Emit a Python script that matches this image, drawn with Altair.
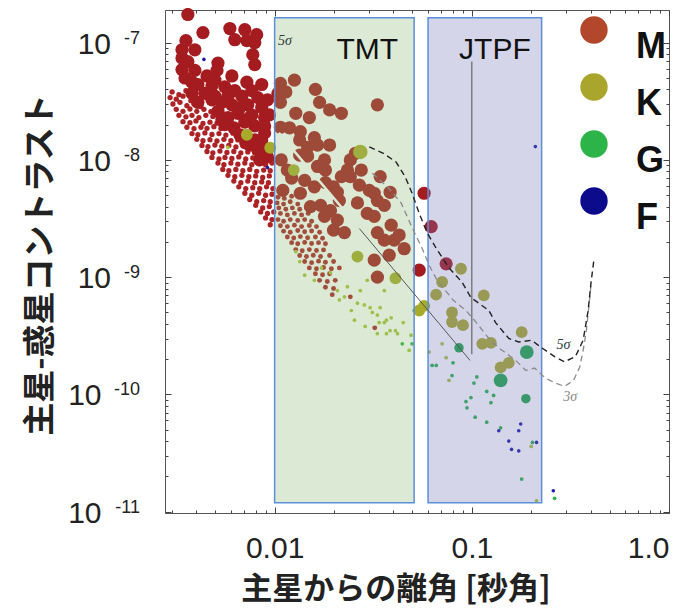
import altair as alt
import pandas as pd

# ---------------- data (separation [arcsec], contrast) ----------------
cloud_red = [
    (0.00302, 3.8e-8), (0.00327, 3.6e-8), (0.00355, 3.9e-8),
    (0.00295, 3.4e-8), (0.00317, 3.3e-8), (0.00343, 3.5e-8), (0.00376, 3.2e-8),
    (0.00305, 3.0e-8), (0.00331, 3.1e-8), (0.00359, 2.9e-8), (0.0039, 3.0e-8), (0.00423, 2.85e-8),
    (0.00317, 2.7e-8), (0.00343, 2.6e-8), (0.00372, 2.72e-8), (0.00403, 2.6e-8), (0.00438, 2.7e-8), (0.00475, 2.58e-8),
    (0.00327, 2.4e-8), (0.00355, 2.33e-8), (0.00381, 2.4e-8), (0.00413, 2.3e-8), (0.00448, 2.4e-8), (0.00486, 2.35e-8), (0.00528, 2.3e-8),
    (0.00343, 2.12e-8), (0.00372, 2.08e-8), (0.00399, 2.15e-8), (0.00433, 2.05e-8), (0.0047, 2.1e-8), (0.0051, 2.06e-8), (0.0056, 2.12e-8), (0.0061, 2.04e-8),
    (0.00359, 1.9e-8), (0.0039, 1.85e-8), (0.00423, 1.9e-8), (0.00454, 1.86e-8), (0.00492, 1.92e-8), (0.00534, 1.85e-8), (0.00586, 1.9e-8), (0.00643, 1.84e-8),
    (0.00381, 1.68e-8), (0.00408, 1.64e-8), (0.00443, 1.7e-8), (0.00481, 1.65e-8), (0.00522, 1.68e-8), (0.00566, 1.63e-8), (0.00614, 1.69e-8), (0.00674, 1.64e-8), (0.00731, 1.67e-8),
    (0.00403, 1.5e-8), (0.00433, 1.46e-8), (0.0047, 1.49e-8), (0.0051, 1.45e-8), (0.00553, 1.5e-8), (0.006, 1.46e-8), (0.00651, 1.48e-8), (0.00706, 1.45e-8), (0.00775, 1.5e-8),
    (0.00428, 1.33e-8), (0.00459, 1.3e-8), (0.00498, 1.34e-8), (0.0054, 1.31e-8), (0.00586, 1.33e-8), (0.00636, 1.29e-8), (0.0069, 1.32e-8), (0.00748, 1.3e-8), (0.00811, 1.34e-8), (0.0088, 1.31e-8),
    (0.00454, 1.18e-8), (0.00486, 1.15e-8), (0.00528, 1.19e-8), (0.00573, 1.16e-8), (0.00621, 1.18e-8), (0.00674, 1.15e-8), (0.00731, 1.17e-8), (0.00793, 1.15e-8), (0.0086, 1.18e-8), (0.0093, 1.16e-8),
    (0.00481, 1.05e-8), (0.00522, 1.02e-8), (0.0056, 1.05e-8), (0.00607, 1.03e-8), (0.00658, 1.06e-8), (0.00714, 1.02e-8), (0.00775, 1.04e-8), (0.0084, 1.02e-8), (0.0091, 1.05e-8), (0.0098, 1.03e-8),
    (0.00516, 9.4e-9), (0.00553, 9.1e-9), (0.006, 9.4e-9), (0.00651, 9.2e-9), (0.00706, 9.4e-9), (0.00766, 9.1e-9), (0.0083, 9.3e-9), (0.009, 9.1e-9), (0.0097, 9.4e-9),
    (0.00546, 8.3e-9), (0.00586, 8.1e-9), (0.00636, 8.3e-9), (0.0069, 8.1e-9), (0.00748, 8.3e-9), (0.00811, 8.0e-9), (0.0088, 8.2e-9), (0.0095, 8.1e-9),
    (0.0058, 7.4e-9), (0.00628, 7.2e-9), (0.00682, 7.4e-9), (0.0074, 7.2e-9), (0.00802, 7.3e-9), (0.0087, 7.1e-9), (0.0094, 7.3e-9),
    (0.00621, 6.6e-9), (0.00674, 6.4e-9), (0.00731, 6.6e-9), (0.00793, 6.4e-9), (0.0086, 6.5e-9), (0.0093, 6.4e-9),
    (0.00658, 5.9e-9), (0.00714, 5.7e-9), (0.00775, 5.8e-9), (0.0084, 5.7e-9), (0.0091, 5.9e-9), (0.0098, 5.7e-9),
    (0.00706, 5.2e-9), (0.00766, 5.0e-9), (0.0083, 5.2e-9), (0.009, 5.0e-9), (0.0097, 5.1e-9),
    (0.00748, 4.6e-9), (0.00811, 4.4e-9), (0.0088, 4.5e-9), (0.0095, 4.4e-9),
    (0.00802, 4.1e-9), (0.0087, 3.9e-9), (0.0094, 4.0e-9),
    (0.0085, 3.6e-9), (0.0092, 3.5e-9), (0.0099, 3.6e-9),
    (0.009, 3.2e-9), (0.0097, 3.1e-9),
    (0.0095, 2.8e-9),
]

tmt_red = [
    (0.0104, 4.8e-9), (0.0112, 4.7e-9), (0.0122, 4.9e-9),
    (0.0103, 4.3e-9), (0.0111, 4.2e-9), (0.012, 4.4e-9), (0.0131, 4.2e-9),
    (0.0105, 3.9e-9), (0.0114, 3.8e-9), (0.0123, 3.9e-9), (0.0134, 3.8e-9), (0.0145, 3.9e-9),
    (0.0107, 3.5e-9), (0.0116, 3.4e-9), (0.0126, 3.5e-9), (0.0137, 3.4e-9), (0.0148, 3.5e-9),
    (0.0104, 3.1e-9), (0.0111, 3.0e-9), (0.012, 3.1e-9), (0.0131, 3.05e-9), (0.0142, 3.1e-9), (0.0154, 3.0e-9),
    (0.0107, 2.75e-9), (0.0116, 2.7e-9), (0.0126, 2.78e-9), (0.0137, 2.7e-9), (0.015, 2.76e-9), (0.0163, 2.7e-9),
    (0.0111, 2.47e-9), (0.012, 2.42e-9), (0.0131, 2.5e-9), (0.0142, 2.44e-9), (0.0154, 2.48e-9), (0.0169, 2.42e-9),
    (0.0116, 2.2e-9), (0.0125, 2.16e-9), (0.0135, 2.22e-9), (0.0147, 2.17e-9), (0.0161, 2.2e-9), (0.0175, 2.15e-9),
    (0.0122, 1.97e-9), (0.0131, 1.93e-9), (0.0142, 1.98e-9), (0.0154, 1.94e-9), (0.0167, 1.97e-9), (0.0181, 1.93e-9),
    (0.0128, 1.72e-9), (0.0138, 1.68e-9), (0.015, 1.72e-9), (0.0163, 1.69e-9), (0.0177, 1.71e-9),
    (0.0134, 1.53e-9), (0.0145, 1.5e-9), (0.0157, 1.54e-9), (0.0171, 1.5e-9), (0.019, 1.53e-9),
    (0.0142, 1.36e-9), (0.0154, 1.33e-9), (0.0167, 1.37e-9), (0.0181, 1.34e-9), (0.0199, 1.36e-9),
    (0.015, 1.2e-9), (0.0163, 1.18e-9), (0.0177, 1.21e-9), (0.0194, 1.18e-9), (0.0213, 1.2e-9),
    (0.0161, 1.07e-9), (0.0175, 1.05e-9), (0.019, 1.07e-9),
    (0.0169, 9.4e-10), (0.0185, 9.2e-10), (0.0203, 9.4e-10),
    (0.0181, 8.2e-10), (0.0199, 8.0e-10),
    (0.0196, 7.1e-10), (0.0242, 6.8e-10), (0.0322, 3.7e-10),
]

small_k = [
    (0.0128, 1.65e-9), (0.0192, 1.09e-9), (0.0234, 8.3e-10), (0.0208, 7.7e-10), (0.0226, 6.8e-10),
    (0.0263, 6.0e-10), (0.0285, 5.8e-10), (0.0305, 5.5e-10), (0.0343, 5.5e-10), (0.0332, 4.75e-10),
    (0.0272, 7.7e-10), (0.0295, 9.4e-10), (0.036, 7.7e-10), (0.036, 4.1e-10), (0.0385, 3.5e-10),
    (0.042, 3.3e-10), (0.0369, 3.3e-10), (0.0332, 3.3e-10), (0.0313, 5.0e-10), (0.0339, 4.1e-10),
    (0.0369, 4.3e-10), (0.041, 3.5e-10), (0.0481, 2.38e-10), (0.0607, 2.3e-10), (0.0707, 2.7e-10),
    (0.0741, 2.06e-10), (0.0766, 1.32e-10), (0.0134, 1.36e-9), (0.0142, 1.04e-9), (0.0159, 9.4e-10),
    (0.0173, 1.2e-9), (0.0213, 6.4e-10), (0.0245, 5.2e-10), (0.039, 4.5e-10), (0.0449, 4.1e-10),
    (0.0492, 3.2e-10), (0.0254, 4.3e-10), (0.0288, 3.8e-10), (0.2, 3.6e-11), (0.213, 1.24e-11),
    (0.0058, 1.28e-8),
]

small_g = [
    (0.0444, 2.7e-10), (0.0498, 2.7e-10), (0.0629, 1.77e-10), (0.066, 1.77e-10), (0.0803, 1.86e-10),
    (0.0794, 1.45e-10), (0.106, 1.41e-10), (0.1025, 1.25e-10), (0.119, 1.06e-10), (0.129, 9.8e-11),
    (0.099, 9.4e-11), (0.125, 8.5e-11), (0.0934, 8.7e-11), (0.0945, 7.7e-11), (0.104, 6.4e-11),
    (0.119, 5.8e-11), (0.14, 5.2e-11), (0.203, 3.9e-11), (0.179, 1.9e-11), (0.263, 1.3e-11),
    (0.051, 5.2e-10),
]

small_f = [
    (0.137, 4.9e-11), (0.177, 5.6e-11), (0.173, 4.9e-11), (0.154, 4.0e-11), (0.159, 3.4e-11),
    (0.173, 3.3e-11), (0.213, 3.9e-11), (0.259, 1.51e-11), (0.00438, 7.2e-8), (0.0092, 8.6e-9),
    (0.21, 1.3e-8),
]

big_m = [
    (0.00363, 1.74e-7), (0.00433, 1.22e-7), (0.00593, 1.32e-7), (0.00706, 1.29e-7), (0.00811, 1.17e-7),
    (0.00628, 1.06e-7), (0.00723, 1.04e-7), (0.00793, 1.0e-7), (0.00355, 1.04e-7), (0.00339, 8.7e-8),
    (0.00775, 7.9e-8), (0.00339, 7.4e-8), (0.00516, 6.7e-8), (0.00339, 5.9e-8), (0.00394, 5.8e-8),
    (0.0051, 5.8e-8), (0.00351, 5.0e-8), (0.00454, 5.2e-8), (0.00607, 5.2e-8), (0.00381, 4.6e-8),
    (0.00408, 4.4e-8), (0.00481, 4.3e-8), (0.00723, 4.6e-8), (0.00559, 4.2e-8), (0.00628, 3.9e-8),
    (0.00766, 3.9e-8), (0.00381, 3.7e-8), (0.00498, 3.5e-8), (0.00682, 3.5e-8), (0.00821, 3.4e-8),
    (0.0054, 3.1e-8), (0.00607, 2.95e-8), (0.00731, 2.95e-8), (0.00408, 3.1e-8), (0.0086, 2.8e-8),
    (0.00516, 2.6e-8), (0.00651, 2.5e-8), (0.00766, 2.42e-8), (0.0089, 2.3e-8), (0.00706, 2.1e-8),
    (0.00793, 1.95e-8), (0.0089, 1.95e-8), (0.0089, 1.7e-8), (0.00793, 1.48e-8), (0.0089, 1.22e-8),
    (0.0092, 1.06e-8), (0.0058, 2.3e-8), (0.00559, 2.0e-8), (0.00666, 1.64e-8), (0.00748, 1.34e-8),
    (0.0084, 1.0e-8),
    (0.00498, 4.8e-8), (0.0058, 3.5e-8), (0.00666, 2.8e-8), (0.00443, 3.7e-8), (0.0054, 2.2e-8),
    (0.00621, 1.88e-8), (0.00714, 1.4e-8), (0.00821, 1.22e-8), (0.0086, 1.48e-8), (0.00748, 2.3e-8),
    (0.00363, 6.9e-8), (0.00394, 8.7e-8), (0.00481, 3.26e-8), (0.0086, 4.4e-8), (0.0092, 3.26e-8),
    (0.0094, 2.42e-8), (0.00793, 6.5e-8),
    (0.0126, 4.8e-8), (0.0107, 4.5e-8), (0.0161, 4.0e-8), (0.0104, 3.7e-8), (0.0114, 3.8e-8),
    (0.0107, 3.1e-8), (0.0169, 3.1e-8), (0.019, 2.67e-8), (0.0332, 2.95e-8), (0.0128, 2.5e-8),
    (0.015, 2.3e-8), (0.0218, 2.5e-8), (0.0107, 1.9e-8), (0.0119, 1.88e-8), (0.0135, 1.74e-8),
    (0.0159, 1.55e-8), (0.0134, 1.48e-8), (0.0147, 1.28e-8), (0.0165, 1.34e-8), (0.0179, 1.0e-8),
    (0.0181, 8.2e-9), (0.0242, 1.0e-8), (0.0257, 1.14e-8), (0.0234, 8.2e-9), (0.0218, 7.2e-9),
    (0.0242, 7.2e-9), (0.0343, 7.2e-9), (0.0181, 6.4e-9), (0.0199, 5.9e-9), (0.032, 5.2e-9),
    (0.0385, 5.3e-9), (0.0332, 4.5e-9), (0.0263, 4.3e-9), (0.0159, 5.9e-9), (0.0135, 5.2e-9),
    (0.0116, 8.2e-9), (0.0208, 5.3e-9), (0.0295, 3.5e-9), (0.032, 3.3e-9), (0.0152, 4.0e-9),
    (0.0171, 4.1e-9), (0.0192, 3.7e-9), (0.0179, 3.3e-9), (0.0208, 3.07e-9), (0.0199, 2.52e-9),
    (0.0226, 2.4e-9), (0.0332, 2.4e-9), (0.036, 2.07e-9), (0.0404, 2.07e-9), (0.0454, 1.75e-9),
    (0.032, 1.4e-9), (0.0332, 1.0e-9), (0.0108, 1.0e-8), (0.0122, 7.0e-9), (0.011, 5.5e-9),
    (0.0147, 1.08e-8), (0.0165, 8.8e-9), (0.0142, 6.7e-9),
    (0.0134, 1.1e-8), (0.019, 1.34e-8), (0.0213, 4.5e-9), (0.0269, 6.1e-9), (0.0275, 8.2e-9),
    (0.0302, 5.5e-9), (0.036, 4.1e-9), (0.039, 2.78e-9), (0.0428, 2.29e-9), (0.0381, 1.54e-9),
    (0.0573, 5.2e-9), (0.0622, 2.7e-9), (0.0741, 1.3e-9), (0.0541, 1.15e-9),
]

big_k = [
    (0.00723, 1.64e-8), (0.0095, 1.27e-8), (0.0125, 8.2e-9), (0.0263, 1.5e-9), (0.041, 9.8e-10),
    (0.0541, 5.2e-10), (0.0573, 5.7e-10), (0.0881, 1.18e-9), (0.0707, 9.1e-10), (0.0659, 7.1e-10),
    (0.115, 7.0e-10), (0.0794, 5.0e-10), (0.0794, 4.15e-10), (0.0902, 3.9e-10), (0.179, 3.4e-10),
    (0.113, 2.7e-10), (0.125, 2.75e-10), (0.14, 1.7e-10), (0.154, 1.86e-10),
]
big_k_large = [(0.0272, 1.17e-8)]
big_g = [(0.19, 2.3e-10), (0.14, 1.32e-10)]
mid_g = [(0.188, 9.2e-11), (0.0861, 2.5e-10)]

box_names = ["TMT", "JTPF"]
box_sep_lo = [0.01, 0.06]
box_sep_hi = [0.051, 0.226]
box_con_lo = [1.19e-11, 1.19e-11]
box_con_hi = [1.63e-7, 1.63e-7]
box_label_sep = [0.0295, 0.131]
box_label_con = [8.7e-8, 8.7e-8]

curve_5sigma = [
    (0.0302, 1.29e-8), (0.0356, 1.14e-8), (0.0413, 9.6e-9), (0.0459, 7.2e-9), (0.0498, 5.2e-9),
    (0.0541, 3.5e-9), (0.0593, 2.4e-9), (0.0659, 1.77e-9), (0.0766, 1.2e-9), (0.0891, 9.1e-10),
    (0.099, 6.7e-10), (0.122, 5.2e-10), (0.132, 4.1e-10), (0.154, 3.0e-10), (0.173, 2.8e-10),
    (0.201, 2.9e-10), (0.226, 2.5e-10), (0.263, 2.1e-10), (0.295, 1.9e-10), (0.335, 2.1e-10),
    (0.367, 2.9e-10), (0.389, 5.2e-10), (0.402, 8.9e-10), (0.417, 1.45e-9),
]
curve_3sigma = [
    (0.0313, 7.7e-9), (0.0373, 5.9e-9), (0.0438, 4.3e-9), (0.0498, 2.65e-9), (0.0559, 1.77e-9),
    (0.0607, 1.27e-9), (0.0667, 9.4e-10), (0.0803, 6.4e-10), (0.0934, 5.2e-10), (0.1055, 4.1e-10),
    (0.122, 3.0e-10), (0.137, 2.5e-10), (0.167, 1.95e-10), (0.188, 1.6e-10), (0.208, 1.68e-10),
    (0.236, 1.38e-10), (0.263, 1.26e-10), (0.295, 1.17e-10), (0.328, 1.32e-10), (0.352, 1.7e-10),
    (0.367, 2.38e-10), (0.381, 3.5e-10), (0.393, 5.8e-10), (0.402, 8.5e-10),
]
diag_light = [(0.0105, 1.7e-8), (0.0269, 2.6e-9)]
diag_dark = [(0.0269, 2.6e-9), (0.098, 1.95e-10)]
vline_sep = [0.1]
vline_top = [6.9e-8]
vline_bot = [2.2e-10]

sigma_dark_text = ["5σ", "5σ"]
sigma_dark_sep = [0.269, 0.0104]
sigma_dark_con = [2.65e-10, 1.04e-7]
sigma_gray_text = ["3σ"]
sigma_gray_sep = [0.291]
sigma_gray_con = [9.6e-11]

x_major = [0.01, 0.1, 1.0]
x_minor = [0.003, 0.004, 0.005, 0.006, 0.007, 0.008, 0.009,
           0.02, 0.03, 0.04, 0.05, 0.06, 0.07, 0.08, 0.09,
           0.2, 0.3, 0.4, 0.5, 0.6, 0.7, 0.8, 0.9]
y_exponents = [-7, -8, -9, -10, -11]
y_major = [1e-7, 1e-8, 1e-9, 1e-10, 1e-11]
y_minor = [m * 10.0 ** e for e in (-11, -10, -9, -8) for m in range(2, 10)]

legend_classes = ["M", "K", "G", "F"]
legend_colors = ["#b3472b", "#aaa52c", "#2db449", "#0b0b8c"]

x_title = ["主星からの離角 [秒角]"]
y_title = ["主星-惑星コントラスト"]

# ---------------- chart ----------------
xs = alt.Scale(type="log", domain=[0.00278, 1.0], nice=False)
ys = alt.Scale(type="log", domain=[9.75e-12, 1.9e-7], nice=False)


def pdf(pairs):
    return pd.DataFrame(pairs, columns=["sep", "con"])


def XY(xf="sep", yf="con"):
    return dict(x=alt.X(f"{xf}:Q", scale=xs, axis=None),
                y=alt.Y(f"{yf}:Q", scale=ys, axis=None))


def points(pairs, color, size):
    return alt.Chart(pdf(pairs)).mark_circle(color=color, size=size, opacity=1).encode(**XY())


def line(pairs, **kw):
    d = pdf(pairs)
    d["i"] = range(len(d))
    return alt.Chart(d).mark_line(**kw).encode(order="i:Q", **XY())


tick_common = dict(domain=False, grid=False, title=None, tickColor="#444", tickWidth=1)


def carrier(xaxis, yaxis):
    d = pd.DataFrame({"sep": box_sep_lo, "con": box_con_lo})
    return alt.Chart(d).mark_point(opacity=0, size=1).encode(
        x=alt.X("sep:Q", scale=xs, axis=xaxis), y=alt.Y("con:Q", scale=ys, axis=yaxis))


ax_b_major = alt.Axis(orient="bottom", values=x_major, offset=-6, tickSize=6, labels=True,
                      labelExpr="datum.value == 1 ? '1.0' : (datum.value >= 0.099 ? '0.1' : '0.01')",
                      labelFontSize=30, labelFont="Liberation Sans", labelColor="#222",
                      labelPadding=20, labelOverlap=False, labelOffset=0,
                      labelAlign={"condition": {"test": "datum.value > 0.5", "value": "right"},
                                  "value": "center"},
                      **tick_common)
ax_b_minor = alt.Axis(orient="bottom", values=x_minor, offset=-3, tickSize=3, labels=False, **tick_common)
ax_t_major = alt.Axis(orient="top", values=x_major, offset=-6, tickSize=6, labels=False, **tick_common)
ax_t_minor = alt.Axis(orient="top", values=x_minor, offset=-3, tickSize=3, labels=False, **tick_common)
ax_l_major = alt.Axis(orient="left", values=y_major, offset=-6, tickSize=6, labels=False, **tick_common)
ax_l_minor = alt.Axis(orient="left", values=y_minor, offset=-3, tickSize=3, labels=False, **tick_common)
ax_r_major = alt.Axis(orient="right", values=y_major, offset=-6, tickSize=6, labels=False, **tick_common)
ax_r_minor = alt.Axis(orient="right", values=y_minor, offset=-3, tickSize=3, labels=False, **tick_common)

boxes_df = pd.DataFrame({"name": box_names, "lo": box_sep_lo, "hi": box_sep_hi,
                         "clo": box_con_lo, "chi": box_con_hi,
                         "lsep": box_label_sep, "lcon": box_label_con})


def box(name, fill):
    return alt.Chart(boxes_df).transform_filter(alt.datum.name == name).mark_rect(
        fill=fill, fillOpacity=0.3, stroke="#5b8fd9", strokeWidth=1.5, strokeOpacity=1
    ).encode(x=alt.X("lo:Q", scale=xs, axis=None), x2="hi:Q",
             y=alt.Y("clo:Q", scale=ys, axis=None), y2="chi:Q")


box_text = alt.Chart(boxes_df).mark_text(fontSize=30, font="Liberation Sans", color="#111",
                                         align="center", baseline="middle").encode(
    x=alt.X("lsep:Q", scale=xs, axis=None), y=alt.Y("lcon:Q", scale=ys, axis=None), text="name:N")

vline = alt.Chart(pd.DataFrame({"sep": vline_sep, "top": vline_top, "bot": vline_bot})).mark_rule(
    color="#666", strokeWidth=1.2).encode(x=alt.X("sep:Q", scale=xs, axis=None),
                                          y=alt.Y("top:Q", scale=ys, axis=None), y2="bot:Q")

sig_dark = alt.Chart(pd.DataFrame({"t": sigma_dark_text, "sep": sigma_dark_sep, "con": sigma_dark_con})).mark_text(
    font="Liberation Serif", fontStyle="italic", fontSize=14, color="#2c3c3c", align="left",
    baseline="middle").encode(text="t:N", **XY())
sig_gray = alt.Chart(pd.DataFrame({"t": sigma_gray_text, "sep": sigma_gray_sep, "con": sigma_gray_con})).mark_text(
    font="Liberation Serif", fontStyle="italic", fontSize=14, color="#8a8a8a", align="left",
    baseline="middle").encode(text="t:N", **XY())

ylab_base = alt.Chart(pd.DataFrame({"e": y_exponents})).transform_calculate(
    val="pow(10, datum.e)", ex="'' + datum.e")
ylab_ten = ylab_base.mark_text(align="right", baseline="middle", fontSize=30, font="Liberation Sans",
                               color="#222", dy=2,
                               dx=alt.ExprRef(expr="-(length(datum.ex) * 9.5 + 10)")).encode(
    x=alt.value(-25), y=alt.Y("val:Q", scale=ys, axis=None), text=alt.value("10"))
ylab_exp = ylab_base.mark_text(align="right", baseline="middle", fontSize=18, font="Liberation Sans",
                               color="#222", dy=-4).encode(
    x=alt.value(-25), y=alt.Y("val:Q", scale=ys, axis=None), text="ex:N")

xtitle = alt.Chart(pd.DataFrame({"t": x_title})).mark_text(
    fontSize=31, font="Noto Sans CJK JP", fontWeight="bold", color="#222", align="center",
    baseline="middle").encode(x=alt.value(231), y=alt.value(580), text="t:N")
ytitle = alt.Chart(pd.DataFrame({"t": y_title})).mark_text(
    fontSize=33, font="Noto Sans CJK JP", fontWeight="bold", color="#222", align="center",
    baseline="middle", angle=270).encode(x=alt.value(-124), y=alt.value(255), text="t:N")

legend_layer = alt.Chart(pd.DataFrame({"cls": legend_classes})).mark_circle(opacity=1).encode(
    x=alt.value(-300), y=alt.value(-300),
    color=alt.Color("cls:N", sort=legend_classes,
                    scale=alt.Scale(domain=legend_classes, range=legend_colors),
                    legend=alt.Legend(orient="none", legendX=411, legendY=2, title=None,
                                      symbolType="circle", symbolSize=750, symbolStrokeWidth=0,
                                      symbolOpacity=1, labelFontSize=36, labelFont="Liberation Sans",
                                      labelFontWeight="bold", labelColor="#111", labelOffset=24,
                                      rowPadding=4, labelBaseline="top", padding=0)))

chart = alt.layer(
    carrier(ax_b_major, ax_l_major),
    carrier(ax_b_minor, ax_l_minor),
    carrier(ax_t_major, ax_r_major),
    carrier(ax_t_minor, ax_r_minor),
    points(cloud_red, "#ad2225", 28),
    points(tmt_red, "#ad2225", 24),
    points(small_k, "#a6c63a", 14),
    points(small_g, "#2db54a", 14),
    points(small_f, "#1c1ca8", 13),
    points(big_m, "#a51c20", 175),
    points(big_k, "#a8ab2a", 140),
    points(big_k_large, "#a8ab2a", 210),
    points(big_g, "#22aa4a", 190),
    points(mid_g, "#22aa4a", 90),
    line(diag_light, color="#ffffff", strokeWidth=2.5),
    box("TMT", "#8ab673"),
    box("JTPF", "#7474bb"),
    line(diag_dark, color="#555555", strokeWidth=1),
    line(curve_3sigma, color="#8a8a8a", strokeWidth=1.3, strokeDash=[6, 4]),
    line(curve_5sigma, color="#222222", strokeWidth=1.4, strokeDash=[6, 4]),
    vline,
    box_text,
    sig_dark,
    sig_gray,
    ylab_ten,
    ylab_exp,
    xtitle,
    ytitle,
    legend_layer,
).resolve_axis(x="independent", y="independent").properties(
    width=504, height=503,
    autosize=alt.AutoSizeParams(type="none"),
    padding={"left": 157, "top": 2, "right": 2, "bottom": 96},
).configure_view(stroke="#555", strokeWidth=1)

chart.save("out.html", embed_options={"renderer": "svg", "actions": False})
